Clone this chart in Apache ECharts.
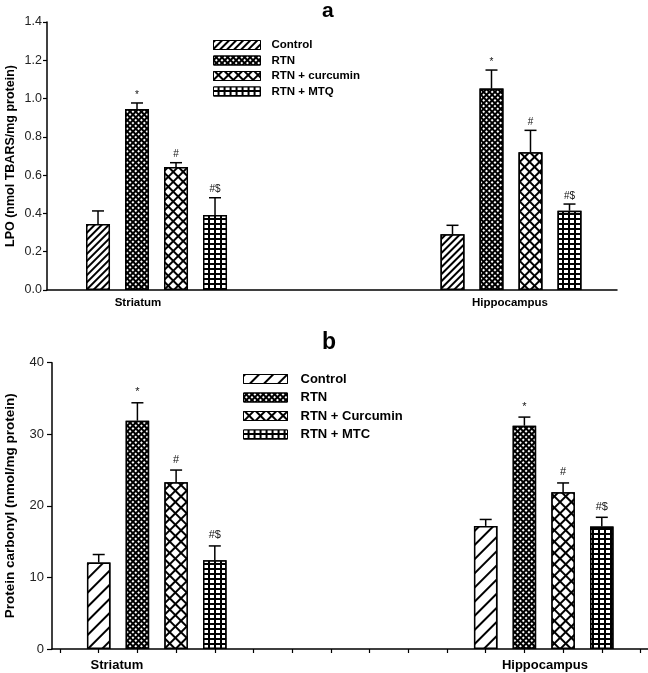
<!DOCTYPE html>
<html>
<head>
<meta charset="utf-8">
<script src="https://cdn.jsdelivr.net/npm/echarts@6/dist/echarts.min.js"></script>
<style>
html,body{margin:0;padding:0;background:#fff;}
#chart{width:648px;height:673px;}
</style>
</head>
<body>
<div id="chart"></div>
<script>
// ---------- DATA ----------
const regions = ['Striatum', 'Hippocampus'];
const groupsA = ['Control', 'RTN', 'RTN + curcumin', 'RTN + MTQ'];
const groupsB = ['Control', 'RTN', 'RTN + Curcumin', 'RTN + MTC'];

// Panel a: LPO (nmol TBARS/mg protein), [Striatum, Hippocampus]
const lpoControl   = [0.345, 0.291];
const lpoRTN       = [0.945, 1.052];
const lpoCurcumin  = [0.643, 0.719];
const lpoMTQ       = [0.392, 0.414];
const lpoErrControl  = [0.068, 0.047];
const lpoErrRTN      = [0.032, 0.097];
const lpoErrCurcumin = [0.022, 0.115];
const lpoErrMTQ      = [0.090, 0.035];

// Panel b: Protein carbonyl (nmol/mg protein), [Striatum, Hippocampus]
const pcControl   = [12.1, 17.2];
const pcRTN       = [31.9, 31.2];
const pcCurcumin  = [23.3, 21.9];
const pcMTC       = [12.4, 17.1];
const pcErrControl  = [1.1, 0.9];
const pcErrRTN      = [2.5, 1.2];
const pcErrCurcumin = [1.7, 1.3];
const pcErrMTC      = [2.0, 1.3];

// significance marks per group, [Striatum, Hippocampus]
const sigControl  = ['', ''];
const sigRTN      = ['*', '*'];
const sigCurcumin = ['#', '#'];
const sigMTx      = ['#$', '#$'];

const yTicksA = [0, 0.2, 0.4, 0.6, 0.8, 1.0, 1.2, 1.4];
const yTicksB = [0, 10, 20, 30, 40];

// ---------- LAYOUT (not data) ----------
const FONT = '"Liberation Sans", Arial, Helvetica, sans-serif';
const layoutA = { min: 0, max: 14.615, groupStart: [1.308, 10.397], labelAt: [2.333, 11.87], barWidth: 24 };
const layoutB = { min: -0.207, max: 15.194, groupStart: [1, 11], labelAt: [1.47, 12.53], barWidth: 23.5,
  ticks: [0,1,2,3,4,5,6,7,8,9,10,11,12,13,14,15] };

// ---------- PATTERNS ----------
const decalsA = [
  { symbol: 'rect', color: '#000', backgroundColor: '#fff', dashArrayX: [1, 0], dashArrayY: [1.4, 2.6], rotation: -Math.PI / 4 },
  { symbol: 'rect', color: '#fff', backgroundColor: '#000', dashArrayX: [1.6, 1.2], dashArrayY: [1.6, 1.2], rotation: Math.PI / 4 },
  { symbol: 'rect', color: '#fff', backgroundColor: '#000', dashArrayX: [4.8, 1.1], dashArrayY: [4.8, 1.1], rotation: Math.PI / 4 },
  { symbol: 'rect', color: '#fff', backgroundColor: '#000', dashArrayX: [3.8, 1.1], dashArrayY: [3, 1.1], rotation: 0 }
];
const decalsB = [
  { symbol: 'rect', color: '#000', backgroundColor: '#fff', dashArrayX: [1, 0], dashArrayY: [1.1, 7.5], rotation: -Math.PI / 4 },
  { symbol: 'rect', color: '#fff', backgroundColor: '#000', dashArrayX: [1.6, 1.2], dashArrayY: [1.6, 1.2], rotation: Math.PI / 4 },
  { symbol: 'rect', color: '#fff', backgroundColor: '#000', dashArrayX: [5.2, 1.1], dashArrayY: [5.2, 1.1], rotation: Math.PI / 4 },
  { symbol: 'rect', color: '#fff', backgroundColor: '#000', dashArrayX: [3.8, 1.1], dashArrayY: [3, 1.1], rotation: 0 }
];

const meansA = [lpoControl, lpoRTN, lpoCurcumin, lpoMTQ];
const errsA  = [lpoErrControl, lpoErrRTN, lpoErrCurcumin, lpoErrMTQ];
const meansB = [pcControl, pcRTN, pcCurcumin, pcMTC];
const errsB  = [pcErrControl, pcErrRTN, pcErrCurcumin, pcErrMTC];
const sigs   = [sigControl, sigRTN, sigCurcumin, sigMTx];

function barSeries(names, means, decals, layout, axisIdx) {
  return names.map((name, g) => ({
    type: 'bar', name: name, xAxisIndex: axisIdx, yAxisIndex: axisIdx,
    barWidth: layout.barWidth, barGap: '-100%',
    itemStyle: { color: '#fff', borderColor: '#000', borderWidth: 1.5, decal: decals[g] },
    emphasis: { disabled: true },
    data: regions.map((r, ri) => [layout.groupStart[ri] + g, means[g][ri]]),
    z: 2
  }));
}

function errSeries(means, errs, layout, axisIdx, fontSize, capHalf, labelGap) {
  const items = [];
  const labels = [];
  means.forEach((m, g) => {
    regions.forEach((r, ri) => {
      items.push([layout.groupStart[ri] + g, m[ri], m[ri] + errs[g][ri]]);
      labels.push(sigs[g][ri]);
    });
  });
  return {
    type: 'custom', xAxisIndex: axisIdx, yAxisIndex: axisIdx, z: 5, silent: true,
    data: items,
    renderItem: function (params, api) {
      const top = api.coord([api.value(0), api.value(1)]);
      const end = api.coord([api.value(0), api.value(2)]);
      const st = { stroke: '#000', lineWidth: 1.5 };
      const children = [
        { type: 'line', shape: { x1: top[0], y1: top[1], x2: end[0], y2: end[1] }, style: st },
        { type: 'line', shape: { x1: end[0] - capHalf, y1: end[1], x2: end[0] + capHalf, y2: end[1] }, style: st }
      ];
      const lab = labels[params.dataIndex];
      if (lab) {
        children.push({ type: 'text', style: { text: lab, x: end[0], y: end[1] - labelGap,
          align: 'center', verticalAlign: 'bottom', font: fontSize + 'px ' + FONT, fill: '#111' } });
      }
      return { type: 'group', children: children };
    }
  };
}

function legendData(names, decals) {
  return names.map((n, i) => ({ name: n, itemStyle: { color: '#fff', borderColor: '#000', borderWidth: 1, decal: decals[i] } }));
}

const chart = echarts.init(document.getElementById('chart'), null, { renderer: 'canvas' });
const option = {
  animation: false,
  backgroundColor: '#fff',
  title: [
    { text: 'a', left: 317, top: -4, textStyle: { fontFamily: FONT, fontSize: 21, fontWeight: 'bold', color: '#000' } },
    { text: 'b', left: 317, top: 326, textStyle: { fontFamily: FONT, fontSize: 23, fontWeight: 'bold', color: '#000' } }
  ],
  legend: [
    { orient: 'vertical', left: 208, top: 34, itemWidth: 47, itemHeight: 9, itemGap: 3.5,
      selectedMode: false, icon: 'rect',
      textStyle: { fontFamily: FONT, fontSize: 11.5, fontWeight: 'bold', color: '#000', lineHeight: 12, padding: [0, 0, 0, 6] },
      data: legendData(groupsA, decalsA) },
    { orient: 'vertical', left: 238, top: 367, itemWidth: 44, itemHeight: 9, itemGap: 4.5,
      selectedMode: false, icon: 'rect',
      textStyle: { fontFamily: FONT, fontSize: 13, fontWeight: 'bold', color: '#000', lineHeight: 14, padding: [0, 0, 0, 8] },
      data: legendData(groupsB, decalsB) }
  ],
  grid: [
    { left: 47, right: 31, top: 22, bottom: 383, containLabel: false, outerBoundsMode: 'none' },
    { left: 52, right: 0, top: 362.7, bottom: 24, containLabel: false, outerBoundsMode: 'none' }
  ],
  xAxis: [
    { type: 'value', gridIndex: 0, min: layoutA.min, max: layoutA.max,
      axisLine: { show: true, onZero: false, lineStyle: { color: '#000', width: 1.5 } },
      axisTick: { show: false }, splitLine: { show: false },
      axisLabel: { customValues: layoutA.labelAt, margin: 7, fontFamily: FONT, fontSize: 11.5, fontWeight: 'bold', color: '#000',
        formatter: function (v) { const i = layoutA.labelAt.findIndex(p => Math.abs(p - v) < 1e-6); return i >= 0 ? regions[i] : ''; } } },
    { type: 'value', gridIndex: 1, min: layoutB.min, max: layoutB.max,
      axisLine: { show: true, onZero: false, lineStyle: { color: '#000', width: 1.5 } },
      axisTick: { show: true, customValues: layoutB.ticks, length: 4, inside: false, lineStyle: { color: '#000', width: 1.2 } },
      splitLine: { show: false },
      axisLabel: { customValues: layoutB.labelAt, margin: 10, fontFamily: FONT, fontSize: 13, fontWeight: 'bold', color: '#000',
        formatter: function (v) { const i = layoutB.labelAt.findIndex(p => Math.abs(p - v) < 1e-6); return i >= 0 ? regions[i] : ''; } } }
  ],
  yAxis: [
    { type: 'value', gridIndex: 0, min: yTicksA[0], max: yTicksA[yTicksA.length - 1], interval: 0.2,
      name: 'LPO (nmol TBARS/mg protein)', nameLocation: 'middle', nameGap: 30, nameMoveOverlap: false,
      nameTextStyle: { fontFamily: FONT, fontSize: 12.5, fontWeight: 'bold', color: '#000' },
      axisLine: { show: true, onZero: false, lineStyle: { color: '#000', width: 1.5 } },
      axisTick: { show: true, length: 4, lineStyle: { color: '#000', width: 1.2 } },
      splitLine: { show: false },
      axisLabel: { margin: 5, fontFamily: FONT, fontSize: 12.5, color: '#222', formatter: v => v.toFixed(1) } },
    { type: 'value', gridIndex: 1, min: yTicksB[0], max: yTicksB[yTicksB.length - 1], interval: 10,
      name: 'Protein carbonyl (nmol/mg protein)', nameLocation: 'middle', nameGap: 35, nameMoveOverlap: false,
      nameTextStyle: { fontFamily: FONT, fontSize: 13.5, fontWeight: 'bold', color: '#000' },
      axisLine: { show: true, onZero: false, lineStyle: { color: '#000', width: 1.5 } },
      axisTick: { show: true, length: 5, lineStyle: { color: '#000', width: 1.2 } },
      splitLine: { show: false },
      axisLabel: { margin: 8, fontFamily: FONT, fontSize: 13, color: '#222' } }
  ],
  series: [].concat(
    barSeries(groupsA, meansA, decalsA, layoutA, 0),
    [errSeries(meansA, errsA, layoutA, 0, 10, 6, 3)],
    barSeries(groupsB, meansB, decalsB, layoutB, 1),
    [errSeries(meansB, errsB, layoutB, 1, 11, 6, 5)]
  )
};
chart.setOption(option);
</script>
</body>
</html>
